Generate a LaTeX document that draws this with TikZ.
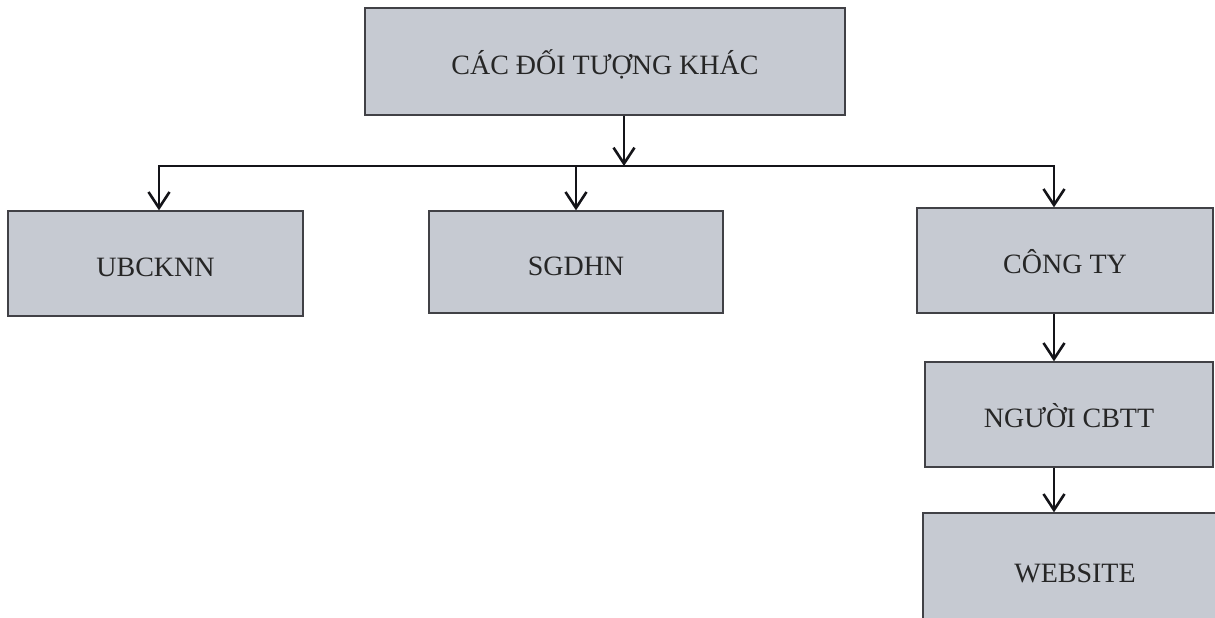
\documentclass[tikz,border=0pt]{standalone}
\usepackage{fontspec}
\setmainfont{Liberation Serif}
\usetikzlibrary{arrows.meta}
\definecolor{boxfill}{RGB}{198,202,210}
\definecolor{boxline}{RGB}{65,65,70}
\definecolor{linecol}{RGB}{20,20,25}
\begin{document}
\begin{tikzpicture}[x=1pt,y=-1pt,
  orgbox/.style={draw=boxline,line width=1.3pt,fill=boxfill,rectangle,inner sep=0pt,
    font=\fontsize{28}{32}\selectfont,text=black!85,text height=26pt,text depth=0pt},
  conn/.style={draw=linecol,line width=2.8pt},
  arr/.style={conn,-{Straight Barb[length=16pt,width=21pt,line width=2.6pt]}}]
\useasboundingbox (0,0) rectangle (1215,618);
\node[orgbox,minimum width=480pt,minimum height=107pt] (top) at (605,61.5) {CÁC ĐỐI TƯỢNG KHÁC};
\node[orgbox,minimum width=295pt,minimum height=105pt] (ub) at (155.5,263.5) {UBCKNN};
\node[orgbox,minimum width=294pt,minimum height=102pt] (sg) at (576,262) {SGDHN};
\node[orgbox,minimum width=296pt,minimum height=105pt] (ct) at (1065,260.5) {CÔNG TY};
\node[orgbox,minimum width=288pt,minimum height=105pt] (ng) at (1069,414.5) {NGƯỜI CBTT};
\node[orgbox,minimum width=304pt,minimum height=112pt] (web) at (1075,569) {WEBSITE};
\coordinate (hl) at (159,166);
\coordinate (hr) at (1054,166);
\coordinate (hm) at (624,166);
\draw[conn,line cap=rect] (hl) -- (hr);
\draw[arr] (top.south -| hm) -- (hm);
\draw[arr] (hl) -- (hl |- ub.north);
\draw[arr] (hl -| sg.north) -- (sg.north);
\draw[arr] (hr) -- (hr |- ct.north);
\draw[arr] (ct.south -| hr) -- (ng.north -| hr);
\draw[arr] (ng.south -| hr) -- (web.north -| hr);
\end{tikzpicture}
\end{document}
